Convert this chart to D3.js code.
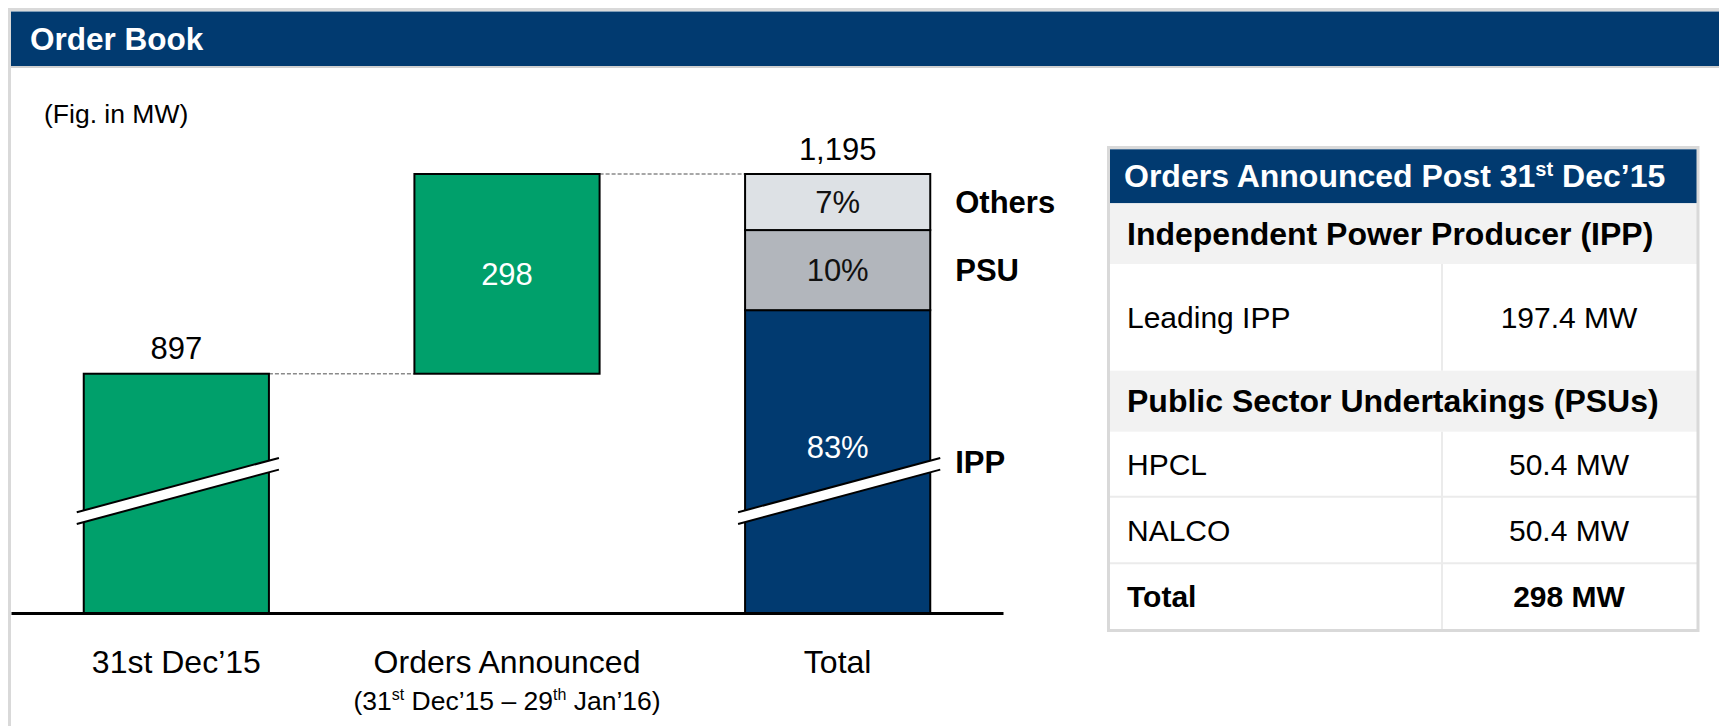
<!DOCTYPE html>
<html>
<head>
<meta charset="utf-8">
<script src="https://cdn.jsdelivr.net/npm/d3@7"></script>
<style>
  body { margin: 0; background: #fff; }
  svg { display: block; font-family: "Liberation Sans", Arial, sans-serif; }
</style>
</head>
<body>
<script>
// chart values (MW)
var categories = ["31st Dec’15", "Orders Announced", "Total"];
var openingBook = 897;
var ordersAnnounced = 298;
var totalBook = 1195;
var axisFloor = 540; // value axis is broken, baseline does not sit at zero
var segmentNames = ["IPP", "PSU", "Others"];
var segmentShares = [83, 10, 7];

// side table
var tableGroups = ["Independent Power Producer (IPP)", "Public Sector Undertakings (PSUs)"];
var tableNames = ["Leading IPP", "HPCL", "NALCO", "Total"];
var tableValues = ["197.4 MW", "50.4 MW", "50.4 MW", "298 MW"];

var navy = "#013a70", green = "#00a06b";
var segColors = { IPP: navy, PSU: "#b2b6bc", Others: "#dde1e5" };
var segText = { IPP: "#fff", PSU: "#111", Others: "#111" };

var W = 1719, H = 726;
var svg = d3.select("body").append("svg")
  .attr("width", W)
  .attr("height", H);

// panel frame + header
svg.append("rect")
  .attr("x", 9.5).attr("y", 9.5)
  .attr("width", W).attr("height", H + 20)
  .attr("fill", "none")
  .attr("stroke", "#d9d9d9")
  .attr("stroke-width", 3);
svg.append("rect")
  .attr("x", 11).attr("y", 11.5)
  .attr("width", W - 11).attr("height", 54.5)
  .attr("fill", navy);
svg.append("line")
  .attr("x1", 11).attr("x2", W)
  .attr("y1", 67).attr("y2", 67)
  .attr("stroke", "#d0d0d0")
  .attr("stroke-width", 2);
svg.append("text")
  .attr("x", 30).attr("y", 50)
  .attr("fill", "#fff")
  .attr("font-size", 31.5)
  .attr("font-weight", "bold")
  .text("Order Book");
svg.append("text")
  .attr("x", 44).attr("y", 123)
  .attr("font-size", 26.5)
  .text("(Fig. in MW)");

// scales
var x = d3.scaleBand()
  .domain(categories)
  .range([11, 1003])
  .paddingInner(0.44)
  .paddingOuter(0.22);

var y = d3.scaleLinear()
  .domain([axisFloor, totalBook])
  .range([613, 174])
  .clamp(true);

var bw = x.bandwidth();

// waterfall bars
var steps = [
  { cat: categories[0], y0: 0, y1: openingBook },
  { cat: categories[1], y0: openingBook, y1: openingBook + ordersAnnounced }
];

// stacked total
var segs = [], acc = 0;
segmentNames.forEach(function(name, i) {
  var v = totalBook * segmentShares[i] / 100;
  segs.push({ name: name, y0: acc, y1: acc + v, share: segmentShares[i] });
  acc += v;
});

var g = svg.append("g");

// connectors
g.append("line")
  .attr("x1", x(categories[0]) + bw).attr("x2", x(categories[1]))
  .attr("y1", y(openingBook)).attr("y2", y(openingBook))
  .attr("stroke", "#8a8a8a").attr("stroke-width", 1.5)
  .attr("stroke-dasharray", "4,2");
g.append("line")
  .attr("x1", x(categories[1]) + bw).attr("x2", x(categories[2]))
  .attr("y1", y(totalBook)).attr("y2", y(totalBook))
  .attr("stroke", "#8a8a8a").attr("stroke-width", 1.5)
  .attr("stroke-dasharray", "4,2");

g.selectAll(".step")
  .data(steps)
  .enter().append("rect")
  .attr("class", "step")
  .attr("x", function(d) { return x(d.cat); })
  .attr("y", function(d) { return y(d.y1); })
  .attr("width", bw)
  .attr("height", function(d) { return y(d.y0) - y(d.y1); })
  .attr("fill", green)
  .attr("stroke", "#000")
  .attr("stroke-width", 2);

g.selectAll(".seg")
  .data(segs)
  .enter().append("rect")
  .attr("class", "seg")
  .attr("x", x(categories[2]))
  .attr("y", function(d) { return y(d.y1); })
  .attr("width", bw)
  .attr("height", function(d) { return y(d.y0) - y(d.y1); })
  .attr("fill", function(d) { return segColors[d.name]; })
  .attr("stroke", "#000")
  .attr("stroke-width", 2);

// axis break marks
var breakY = y((axisFloor + openingBook) / 2) - 2;
var slope = -0.269, gap = 11.7;
[categories[0], categories[2]].forEach(function(c) {
  var xl = x(c) - 7, xr = x(c) + bw + 10, cx = x(c) + bw / 2;
  var up = function(xx) { return breakY - gap / 2 + slope * (xx - cx); };
  g.append("path")
    .attr("d", "M" + xl + "," + up(xl) + "L" + xr + "," + up(xr) +
      "L" + xr + "," + (up(xr) + gap) + "L" + xl + "," + (up(xl) + gap) + "Z")
    .attr("fill", "#fff");
  [0, gap].forEach(function(off) {
    g.append("line")
      .attr("x1", xl).attr("y1", up(xl) + off)
      .attr("x2", xr).attr("y2", up(xr) + off)
      .attr("stroke", "#000").attr("stroke-width", 2);
  });
});

// x axis
var xAxis = d3.axisBottom(x).tickSize(0).tickSizeOuter(0).tickPadding(37);
var ax = svg.append("g")
  .attr("transform", "translate(0," + y(axisFloor) + ")")
  .call(xAxis);
ax.select(".domain").attr("stroke", "#000").attr("stroke-width", 3);
ax.selectAll(".tick text")
  .attr("font-size", 32)
  .attr("font-family", "Liberation Sans, Arial, sans-serif")
  .attr("fill", "#000");

// period note under the middle category
var note = svg.append("text")
  .attr("x", x(categories[1]) + bw / 2)
  .attr("y", 710)
  .attr("text-anchor", "middle")
  .attr("font-size", 26.5);
note.append("tspan").text("(31");
note.append("tspan").attr("font-size", 16).attr("dy", -10).text("st");
note.append("tspan").attr("dy", 10).text(" Dec’15 – 29");
note.append("tspan").attr("font-size", 16).attr("dy", -10).text("th");
note.append("tspan").attr("dy", 10).text(" Jan’16)");

// value labels
var fmt = d3.format(",");
g.append("text")
  .attr("x", x(categories[0]) + bw / 2)
  .attr("y", y(openingBook) - 15)
  .attr("text-anchor", "middle").attr("font-size", 31)
  .text(fmt(openingBook));
g.append("text")
  .attr("x", x(categories[1]) + bw / 2)
  .attr("y", (y(openingBook) + y(openingBook + ordersAnnounced)) / 2 + 11)
  .attr("text-anchor", "middle").attr("font-size", 31)
  .attr("fill", "#fff")
  .text(fmt(ordersAnnounced));
g.append("text")
  .attr("x", x(categories[2]) + bw / 2)
  .attr("y", y(totalBook) - 14)
  .attr("text-anchor", "middle").attr("font-size", 31)
  .text(fmt(totalBook));

g.selectAll(".segLabel")
  .data(segs)
  .enter().append("text")
  .attr("class", "segLabel")
  .attr("x", x(categories[2]) + bw / 2)
  .attr("y", function(d) {
    var mid = (y(d.y0) + y(d.y1)) / 2 + 11;
    return d.y0 < axisFloor ? mid - 15 : mid;
  })
  .attr("text-anchor", "middle").attr("font-size", 31)
  .attr("fill", function(d) { return segText[d.name]; })
  .text(function(d) { return d.share + "%"; });

g.selectAll(".segName")
  .data(segs)
  .enter().append("text")
  .attr("class", "segName")
  .attr("x", x(categories[2]) + bw + 25)
  .attr("y", function(d) { return (y(d.y0) + y(d.y1)) / 2 + 11; })
  .attr("font-size", 31).attr("font-weight", "bold")
  .text(function(d) { return d.name; });

// side table
var tx0 = 1110, tx1 = 1697, tColX = 1442, tValX = 1569, tTextX = 1127;
var tbl = svg.append("g");
var rows = [
  { kind: "group", text: tableGroups[0], h: 60.7 },
  { kind: "row", i: 0, h: 106.7 },
  { kind: "group", text: tableGroups[1], h: 61 },
  { kind: "row", i: 1, h: 65 },
  { kind: "row", i: 2, h: 66.6 },
  { kind: "row", i: 3, h: 66.7, bold: true }
];
var ty = 203.3;
rows.forEach(function(r) { r.top = ty; ty += r.h; });

tbl.append("rect")
  .attr("x", tx0).attr("y", 149.3)
  .attr("width", tx1 - tx0).attr("height", 54)
  .attr("fill", navy);
var th = tbl.append("text")
  .attr("x", 1124).attr("y", 187)
  .attr("fill", "#fff").attr("font-size", 32).attr("font-weight", "bold");
th.append("tspan").text("Orders Announced Post 31");
th.append("tspan").attr("font-size", 20).attr("dy", -11).text("st");
th.append("tspan").attr("dy", 11).text(" Dec’15");

rows.forEach(function(r, k) {
  if (r.kind === "group") {
    tbl.append("rect")
      .attr("x", tx0).attr("y", r.top)
      .attr("width", tx1 - tx0).attr("height", r.h)
      .attr("fill", "#f2f2f2");
    tbl.append("text")
      .attr("x", tTextX).attr("y", r.top + 41.7)
      .attr("font-size", 32).attr("font-weight", "bold")
      .text(r.text);
  } else {
    tbl.append("line")
      .attr("x1", tColX).attr("x2", tColX)
      .attr("y1", r.top).attr("y2", r.top + r.h)
      .attr("stroke", "#ebebeb").attr("stroke-width", 2);
    if (rows[k - 1].kind === "row") {
      tbl.append("line")
        .attr("x1", tx0).attr("x2", tx1)
        .attr("y1", r.top).attr("y2", r.top)
        .attr("stroke", "#ebebeb").attr("stroke-width", 2);
    }
    var base = r.top + r.h / 2 + 10.5;
    tbl.append("text")
      .attr("x", tTextX).attr("y", base)
      .attr("font-size", 30)
      .attr("font-weight", r.bold ? "bold" : "normal")
      .text(tableNames[r.i]);
    tbl.append("text")
      .attr("x", tValX).attr("y", base)
      .attr("text-anchor", "middle")
      .attr("font-size", 30)
      .attr("font-weight", r.bold ? "bold" : "normal")
      .text(tableValues[r.i]);
  }
});

tbl.append("rect")
  .attr("x", 1108.5).attr("y", 147.5)
  .attr("width", 589.5).attr("height", 483)
  .attr("fill", "none")
  .attr("stroke", "#d9d9d9")
  .attr("stroke-width", 3);
</script>
</body>
</html>
